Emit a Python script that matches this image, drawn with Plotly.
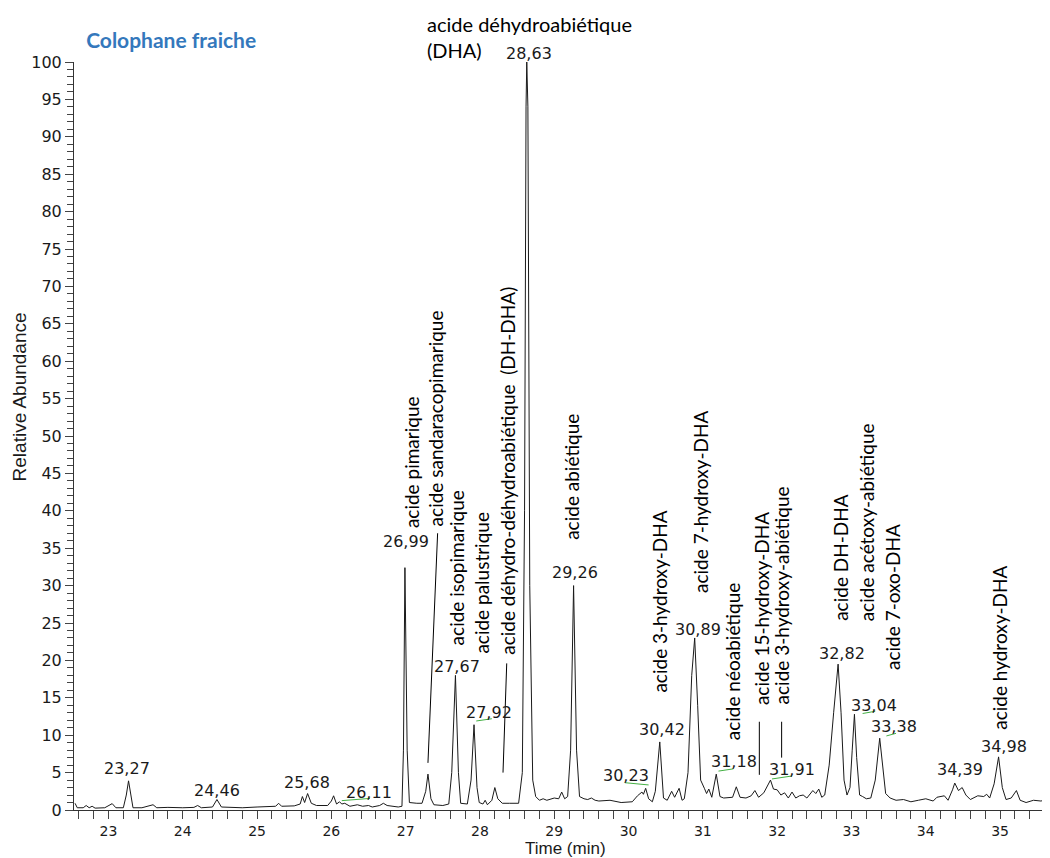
import plotly.graph_objects as go

# chromatogram trace (time in min, relative abundance in %)
time_min = [
    22.55, 22.58, 22.66, 22.70, 22.74, 22.78, 22.82, 22.95, 23.05, 23.10,
    23.20, 23.24, 23.27, 23.30, 23.33, 23.45, 23.60, 23.65, 23.80, 24.00,
    24.15, 24.20, 24.25, 24.40, 24.46, 24.52, 24.60, 24.80, 25.00, 25.25,
    25.29, 25.33, 25.50, 25.58, 25.61, 25.64, 25.68, 25.73, 25.80, 25.95,
    26.00, 26.03, 26.07, 26.11, 26.14, 26.18, 26.25, 26.35, 26.42, 26.50,
    26.55, 26.65, 26.70, 26.75, 26.90, 26.95, 26.97, 26.99, 27.02, 27.05,
    27.15, 27.22, 27.27, 27.30, 27.34, 27.38, 27.50, 27.58, 27.62, 27.67,
    27.71, 27.74, 27.83, 27.88, 27.92, 27.96, 27.99, 28.04, 28.07, 28.10,
    28.16, 28.20, 28.24, 28.30, 28.40, 28.52, 28.57, 28.60, 28.62, 28.63,
    28.645, 28.67, 28.71, 28.75, 28.80, 28.85, 28.90, 29.00, 29.06, 29.10,
    29.14, 29.18, 29.22, 29.26, 29.30, 29.34, 29.40, 29.45, 29.50, 29.55,
    29.60, 29.75, 29.90, 30.05, 30.12, 30.18, 30.20, 30.23, 30.27, 30.32,
    30.36, 30.42, 30.47, 30.52, 30.58, 30.62, 30.68, 30.72, 30.75, 30.80,
    30.85, 30.89, 30.93, 30.97, 31.02, 31.05, 31.08, 31.12, 31.18, 31.23,
    31.28, 31.35, 31.40, 31.45, 31.50, 31.58, 31.65, 31.70, 31.75, 31.82,
    31.88, 31.91, 31.95, 32.00, 32.05, 32.10, 32.15, 32.20, 32.25, 32.30,
    32.35, 32.40, 32.48, 32.52, 32.56, 32.60, 32.64, 32.70, 32.76, 32.82,
    32.86, 32.90, 32.94, 32.98, 33.01, 33.04, 33.07, 33.11, 33.15, 33.20,
    33.26, 33.32, 33.38, 33.42, 33.46, 33.52, 33.60, 33.70, 33.80, 33.90,
    34.00, 34.10, 34.15, 34.25, 34.30, 34.36, 34.39, 34.44, 34.49, 34.54,
    34.60, 34.70, 34.78, 34.82, 34.86, 34.92, 34.98, 35.03, 35.08, 35.15,
    35.22, 35.27, 35.35, 35.45, 35.55, 35.67,
]
abundance = [
    0.9, 0.3, 0.3, 0.6, 0.3, 0.5, 0.25, 0.3, 0.85, 0.3,
    0.3, 2.0, 3.9, 2.0, 0.3, 0.3, 0.7, 0.3, 0.35, 0.3,
    0.35, 0.6, 0.3, 0.4, 1.4, 0.4, 0.35, 0.3, 0.4, 0.5,
    0.9, 0.5, 0.55, 0.8, 1.8, 1.0, 2.2, 0.9, 0.6, 0.6,
    1.2, 1.9, 0.8, 1.1, 0.8, 0.9, 0.5, 0.7, 0.5, 0.6,
    0.4, 0.6, 0.9, 0.6, 0.4, 0.5, 8.0, 32.4, 8.0, 1.0,
    0.9, 0.9, 2.5, 4.8, 1.5, 0.7, 0.6, 0.8, 5.0, 18.0,
    5.0, 0.9, 0.8, 4.0, 11.4, 3.0, 1.0, 0.8, 1.3, 0.7,
    1.3, 3.0, 1.5, 0.9, 0.9, 0.9, 5.0, 40.0, 94.0, 100.0,
    94.0, 30.0, 4.0, 1.8, 1.3, 1.5, 1.3, 1.6, 1.5, 2.4,
    1.5, 1.8, 8.0, 30.0, 8.0, 1.8, 1.5, 1.4, 1.6, 1.3,
    1.2, 1.3, 1.0, 1.1, 1.9, 2.4, 2.1, 2.9, 1.5, 1.1,
    2.5, 9.1, 1.6, 1.3, 2.5, 1.7, 2.9, 1.3, 1.5, 5.0,
    18.0, 23.0, 14.0, 4.0, 2.9, 2.2, 2.8, 1.7, 4.8, 1.8,
    1.6, 1.7, 1.7, 3.1, 1.7, 1.6, 1.9, 2.6, 1.7, 2.3,
    3.4, 4.0, 2.8, 2.7, 2.0, 2.3, 1.6, 2.4, 1.6, 1.9,
    2.0, 1.6, 2.6, 2.2, 2.8, 1.7, 2.0, 6.0, 13.0, 19.5,
    13.0, 4.0, 2.0, 3.0, 8.0, 12.8, 7.0, 2.0, 1.8, 1.5,
    1.6, 4.0, 9.6, 6.0, 2.2, 1.6, 1.3, 1.4, 1.1, 1.3,
    1.5, 1.2, 1.7, 1.9, 1.3, 2.7, 3.6, 2.6, 3.0, 2.0,
    1.4, 1.9, 1.8, 2.1, 1.6, 3.5, 7.1, 3.0, 1.4, 1.6,
    2.6, 1.3, 1.0, 1.3, 1.2, 1.5,
]

# retention-time labels: text, x, y (centre)
rt_text = ["23,27", "24,46", "25,68", "26,11", "26,99", "27,67", "27,92",
           "29,26", "30,23", "30,42", "30,89", "31,18", "31,91", "32,82", "33,04",
           "33,38", "34,39", "34,98"]
rt_x = [23.25, 24.46, 25.67, 26.50, 27.00, 27.69, 28.12,
        29.28, 29.96, 30.45, 30.94, 31.42, 32.20, 32.87, 33.30,
        33.57, 34.46, 35.05]
rt_y = [5.5, 2.55, 3.65, 2.3, 35.9, 19.2, 13.0,
        31.7, 4.55, 10.7, 24.1, 6.45, 5.45, 20.9, 14.0,
        11.15, 5.45, 8.55]

# label of the main peak, sitting above the top of the axis
top_rt_text = "28,63"
top_rt_x = 28.66
top_rt_y = 101.2

# compound names (vertical text): text, centre x, bottom y
cmp_text = ["acide pimarique", "acide sandaracopimarique", "acide isopimarique",
            "acide palustrique", "acide déhydro-déhydroabiétique  (DH-DHA)",
            "acide abiétique", "acide 3-hydroxy-DHA", "acide 7-hydroxy-DHA",
            "acide néoabiétique", "acide 15-hydroxy-DHA", "acide 3-hydroxy-abiétique",
            "acide DH-DHA", "acide acétoxy-abiétique", "acide 7-oxo-DHA",
            "acide hydroxy-DHA"]
cmp_x = [27.07, 27.40, 27.68, 28.02, 28.36,
         29.23, 30.42, 30.97,
         31.41, 31.78, 32.06,
         32.85, 33.20, 33.55,
         34.99]
cmp_y = [37.4, 37.7, 21.7, 20.7, 20.45,
         35.9, 15.4, 28.7,
         9.1, 13.8, 13.8,
         25.0, 25.0, 18.5,
         10.5]

# name of the main peak, above the plot
top_cmp_text = "acide déhydroabiétique<br>(DHA)"
top_cmp_x = 27.26
top_cmp_y = 106.9

# leader lines from names to peaks
lead_x0 = [27.43, 28.36, 31.76, 32.06]
lead_y0 = [37.0, 19.6, 11.8, 11.8]
lead_x1 = [27.30, 28.31, 31.76, 32.06]
lead_y1 = [6.3, 5.0, 4.7, 7.0]

# short green integration marks under some labels
green_x0 = [26.14, 27.95, 29.95, 31.21, 31.93, 33.15, 33.47]
green_y0 = [1.25, 11.9, 3.65, 5.2, 4.15, 12.9, 9.9]
green_x1 = [26.52, 28.16, 30.27, 31.41, 32.20, 33.32, 33.60]
green_y1 = [1.55, 12.2, 3.35, 5.5, 4.55, 13.2, 10.25]

fig = go.Figure()

fig.add_trace(
    go.Scatter(
        x=time_min,
        y=abundance,
        mode="lines",
        line=dict(color="#1a1a1a", width=1),
        showlegend=False,
        hoverinfo="x+y"
    )
)

for x0, y0, x1, y1 in zip(lead_x0, lead_y0, lead_x1, lead_y1):
    fig.add_shape(type="line", x0=x0, y0=y0, x1=x1, y1=y1,
                  line=dict(color="black", width=1))

for x0, y0, x1, y1 in zip(green_x0, green_y0, green_x1, green_y1):
    fig.add_shape(type="line", x0=x0, y0=y0, x1=x1, y1=y1,
                  line=dict(color="#44b044", width=1))

for txt, x, y in zip(rt_text, rt_x, rt_y):
    fig.add_annotation(
        x=x, y=y, text=txt, showarrow=False,
        xanchor="center", yanchor="middle",
        font=dict(family="DejaVu Sans", size=16, color="#1a1a1a")
    )

# y axis spans 0-100, so paper y = abundance / 100
fig.add_annotation(
    x=top_rt_x, yref="paper", y=top_rt_y / 100, text=top_rt_text, showarrow=False,
    xanchor="center", yanchor="middle",
    font=dict(family="DejaVu Sans", size=16, color="#1a1a1a")
)

for txt, x, y in zip(cmp_text, cmp_x, cmp_y):
    fig.add_annotation(
        x=x, y=y, text=txt, showarrow=False, textangle=-90,
        xanchor="center", yanchor="bottom",
        font=dict(family="Lato", size=19, color="black")
    )

fig.add_annotation(
    x=top_cmp_x, yref="paper", y=top_cmp_y / 100, text=top_cmp_text, showarrow=False,
    xanchor="left", yanchor="top", align="left",
    font=dict(family="Lato", size=20, color="black")
)

# axis titles
fig.add_annotation(
    xref="paper", yref="paper", x=-0.056, y=0.552,
    text="Relative Abundance", showarrow=False, textangle=-90,
    xanchor="center", yanchor="middle",
    font=dict(family="Liberation Sans", size=19, color="#1a1a1a")
)
fig.add_annotation(
    xref="paper", yref="paper", x=0.504, y=-0.0515,
    text="Time (min)", showarrow=False,
    xanchor="center", yanchor="middle",
    font=dict(family="Liberation Sans", size=17, color="#1a1a1a")
)

# page has an 8px body margin, so the figure is drawn 8px smaller
fig.update_layout(
    width=1042,
    height=850,
    plot_bgcolor="white",
    paper_bgcolor="white",
    margin=dict(l=66, r=0, t=54, b=48),
    title=dict(
        text="<b>Colophane fraiche</b>",
        x=0.075, xanchor="left",
        y=0.962, yanchor="middle",
        font=dict(family="Lato", size=21, color="#3478bc")
    ),
    showlegend=False
)

fig.update_xaxes(
    range=[22.536, 35.672],
    showgrid=False, zeroline=False,
    showline=True, linecolor="#333333", linewidth=1,
    ticks="outside", ticklen=8, tickcolor="#444444",
    dtick=1, tick0=0,
    minor=dict(dtick=0.2, ticks="outside", ticklen=8, tickcolor="#444444"),
    tickfont=dict(family="DejaVu Sans", size=14, color="#1a1a1a")
)

fig.update_yaxes(
    range=[0, 100],
    showgrid=False, zeroline=False,
    showline=True, linecolor="#333333", linewidth=1,
    ticks="outside", ticklen=8, tickcolor="#444444",
    dtick=5, tick0=0,
    minor=dict(dtick=1, ticks="outside", ticklen=6, tickcolor="#444444"),
    tickfont=dict(family="DejaVu Sans", size=16, color="#1a1a1a")
)

fig.write_html("out.html")
